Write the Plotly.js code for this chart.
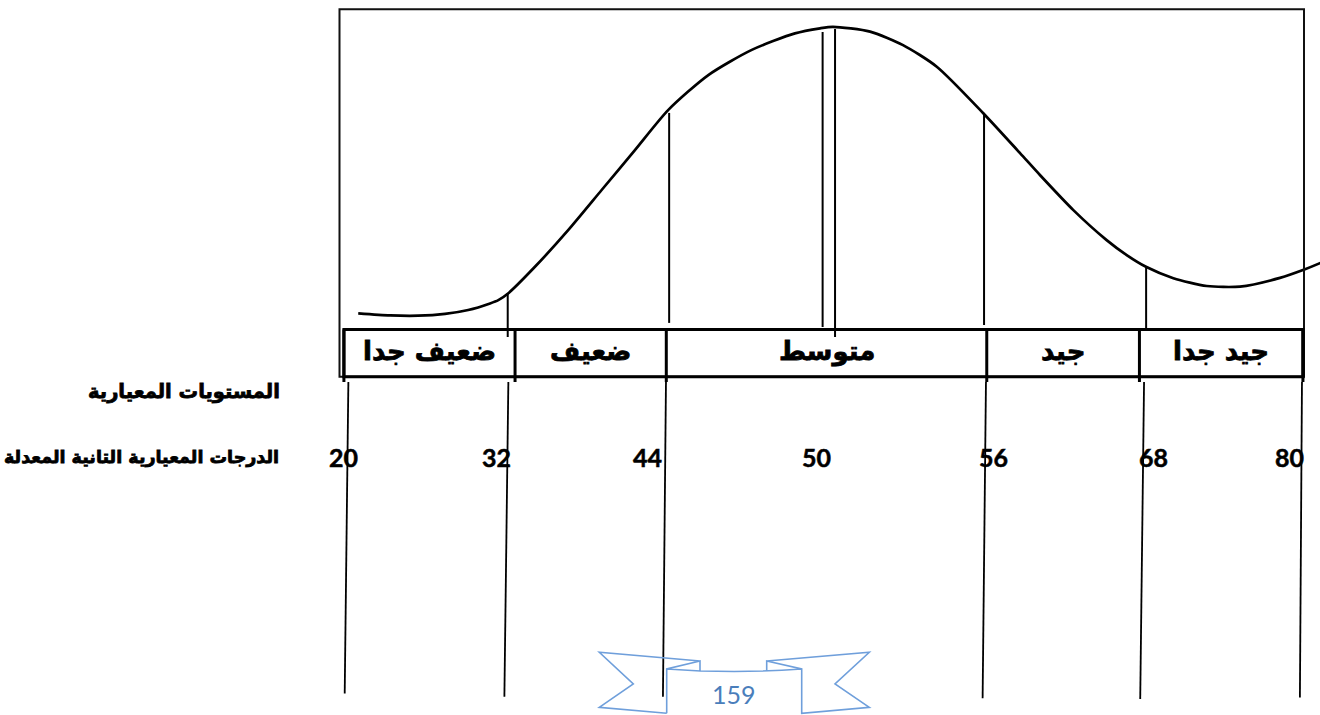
<!DOCTYPE html>
<html>
<head>
<meta charset="utf-8">
<script src="https://cdn.plot.ly/plotly-3.0.1.min.js"></script>
<style>html,body{margin:0;padding:0;background:#fff;}#chart{width:1320px;height:715px;}</style>
</head>
<body>
<div id="chart"></div>
<script>
// ---- data (x in score-position units: 0 = 20, 1 = 32, ... 6 = 80; y = curve height) ----
const scores = [20, 32, 44, 50, 56, 68, 80];
const scorePos = [0, 1, 2, 3, 4, 5, 6];
const levels = ['ضعيف جدا', 'ضعيف', 'متوسط', 'جيد', 'جيد جدا'];
const levelEdges = [-0.01, 1.065, 2.015, 4.028, 4.987, 6.014];

const curveX = [0.080, 0.280, 0.457, 0.625, 0.771, 0.908, 0.960, 1.023, 1.190, 1.400, 1.609, 1.818,
  2.028, 2.279, 2.552, 2.823, 2.981, 3.062, 3.295, 3.502, 3.714, 4.006, 4.237, 4.362, 4.572,
  4.781, 4.907, 5.028, 5.200, 5.410, 5.619, 5.870, 6.014, 6.160];
const curveY = [5.4, 4.7, 4.6, 5.2, 6.5, 8.7, 9.8, 12.1, 20.9, 33.2, 46.5, 59.8,
  73.2, 84.8, 93.2, 98.7, 100.4, 100.9, 99.3, 94.8, 87.6, 72.1, 58.8, 51.5, 39.8,
  29.8, 24.8, 20.9, 17.1, 14.5, 14.3, 17.2, 19.8, 23.0];

const cutX = [1.019, 2.033, 2.997, 3.075, 4.011, 5.029];
const cutTop = [12.1, 72.2, 99.2, 100.2, 72.2, 20.8];
const cutBottom = [-2.5, 2.2, 0.8, -2.5, 1.5, 0.5];

const gridTopX = [0.018, 1.023, 2.013, 4.023, 5.016, 6.008];
const gridBottomX = [-0.005, 0.998, 1.994, 4.002, 4.992, 5.995];
const gridTopY = [-17.5, -17.5, -17.5, -17.5, -17.5, -17.5];
const gridBottomY = [-121.3, -122.4, -122.4, -122.9, -123.2, -122.7];

const levelTitle = 'المستويات المعيارية';
const scoreTitle = 'الدرجات المعيارية التانية المعدلة';
const pageNumber = '159';

// ---- styles / layout helpers ----
const PXU = 159.2, X0 = 345.5, Y0 = 329.5, PYU = 3;
const X = px => (px - X0) / PXU;
const Y = py => (Y0 - py) / PYU;
const scoreShift = [-2, -8.7, -16.4, -7.1, 10.7, 11.5, -11.7];

function segs(xa, xb, ya, yb) {
  const x = [], y = [];
  for (let i = 0; i < xa.length; i++) { x.push(xa[i], xb[i], null); y.push(ya[i], yb[i], null); }
  return {x, y};
}

const cuts = segs(cutX, cutX, cutTop, cutBottom);
const grid = segs(gridTopX, gridBottomX, gridTopY, gridBottomY);

const traces = [
  {x: curveX, y: curveY, mode: 'lines', line: {color: '#000', width: 2.7, shape: 'spline', smoothing: 0.7}, hoverinfo: 'skip'},
  {x: cuts.x, y: cuts.y, mode: 'lines', line: {color: '#000', width: 2}, hoverinfo: 'skip'},
  {x: grid.x, y: grid.y, mode: 'lines', line: {color: '#000', width: 1.8}, hoverinfo: 'skip'}
];

const shapes = [];
// outer frame
shapes.push({type: 'rect', xref: 'x', yref: 'y', x0: X(339.5), x1: X(1304), y0: Y(9.3), y1: Y(376.7),
  line: {color: '#111', width: 2}});
// level box
shapes.push({type: 'rect', xref: 'x', yref: 'y', x0: levelEdges[0], x1: levelEdges[levelEdges.length - 1],
  y0: 0, y1: Y(376.7), line: {color: '#000', width: 3}});
for (let i = 0; i < levelEdges.length; i++) {
  shapes.push({type: 'line', xref: 'x', yref: 'y', x0: levelEdges[i], x1: levelEdges[i], y0: 0, y1: Y(382),
    line: {color: '#000', width: 3}});
}
// page-number ribbon
const P = (a, b) => X(a) + ',' + Y(b);
const ribbon =
  'M' + P(700, 661) + ' L' + P(599.3, 652.3) + ' L' + P(633.3, 684) + ' L' + P(599.3, 707.3) + ' L' + P(666.7, 713.3) +
  ' M' + P(666.7, 713.3) + ' L' + P(666.7, 669) + ' L' + P(700, 661) + ' L' + P(700, 670.7) +
  ' M' + P(666.7, 669) + ' Q' + P(734, 674) + ' ' + P(801.7, 669) +
  ' M' + P(766.7, 670.7) + ' L' + P(766.7, 661) + ' L' + P(801.7, 669) + ' L' + P(801.7, 713.3) +
  ' L' + P(869.3, 707.3) + ' L' + P(835, 684) + ' L' + P(869.3, 652.3) + ' L' + P(766.7, 661);
shapes.push({type: 'path', xref: 'x', yref: 'y', path: ribbon, line: {color: '#6F9FDB', width: 1.6}});

const annotations = [];
for (let i = 0; i < levels.length; i++) {
  annotations.push({x: (levelEdges[i] + levelEdges[i + 1]) / 2, y: Y(351), xref: 'x', yref: 'y',
    text: levels[i], showarrow: false, xanchor: 'center', yanchor: 'middle',
    font: {family: 'DejaVu Sans', size: 26, color: '#000', weight: 'bold'}});
}
for (let i = 0; i < scores.length; i++) {
  annotations.push({x: scorePos[i], y: Y(457), xref: 'x', yref: 'y', xshift: scoreShift[i],
    text: String(scores[i]), showarrow: false, xanchor: 'center', yanchor: 'middle',
    font: {family: 'Lato', size: 25, color: '#000', weight: 'bold'}});
}
annotations.push({x: X(282), y: Y(391), xref: 'x', yref: 'y', text: levelTitle, showarrow: false,
  xanchor: 'right', yanchor: 'middle', font: {family: 'DejaVu Sans', size: 19.5, color: '#000', weight: 'bold'}});
annotations.push({x: X(281), y: Y(457), xref: 'x', yref: 'y', text: scoreTitle, showarrow: false,
  xanchor: 'right', yanchor: 'middle', font: {family: 'DejaVu Sans', size: 17.5, color: '#000', weight: 'bold'}});
annotations.push({x: X(733.5), y: Y(694), xref: 'x', yref: 'y', text: pageNumber, showarrow: false,
  xanchor: 'center', yanchor: 'middle', font: {family: 'Lato', size: 25, color: '#4A7EBB'}});

const layout = {
  width: 1320, height: 715,
  margin: {l: 0, r: 0, t: 0, b: 0, pad: 0},
  paper_bgcolor: '#fff', plot_bgcolor: '#fff',
  showlegend: false,
  xaxis: {range: [X(0), X(1320)], visible: false, fixedrange: true},
  yaxis: {range: [Y(715), Y(0)], visible: false, fixedrange: true},
  shapes: shapes,
  annotations: annotations
};

Plotly.newPlot('chart', traces, layout, {staticPlot: true, displayModeBar: false}).then(() => {
  // heavier strokes for the bold labels (the reference uses very bold faces)
  document.querySelectorAll('.annotation-text').forEach(t => {
    const txt = t.textContent;
    if (/[\u0600-\u06FF]/.test(txt)) {
      t.style.stroke = '#000';
      t.style.strokeWidth = '0.8px';
      t.style.paintOrder = 'stroke';
    } else if (scores.map(String).includes(txt)) {
      t.style.stroke = '#000';
      t.style.strokeWidth = '0.5px';
      t.style.paintOrder = 'stroke';
    }
  });
});
</script>
</body>
</html>
